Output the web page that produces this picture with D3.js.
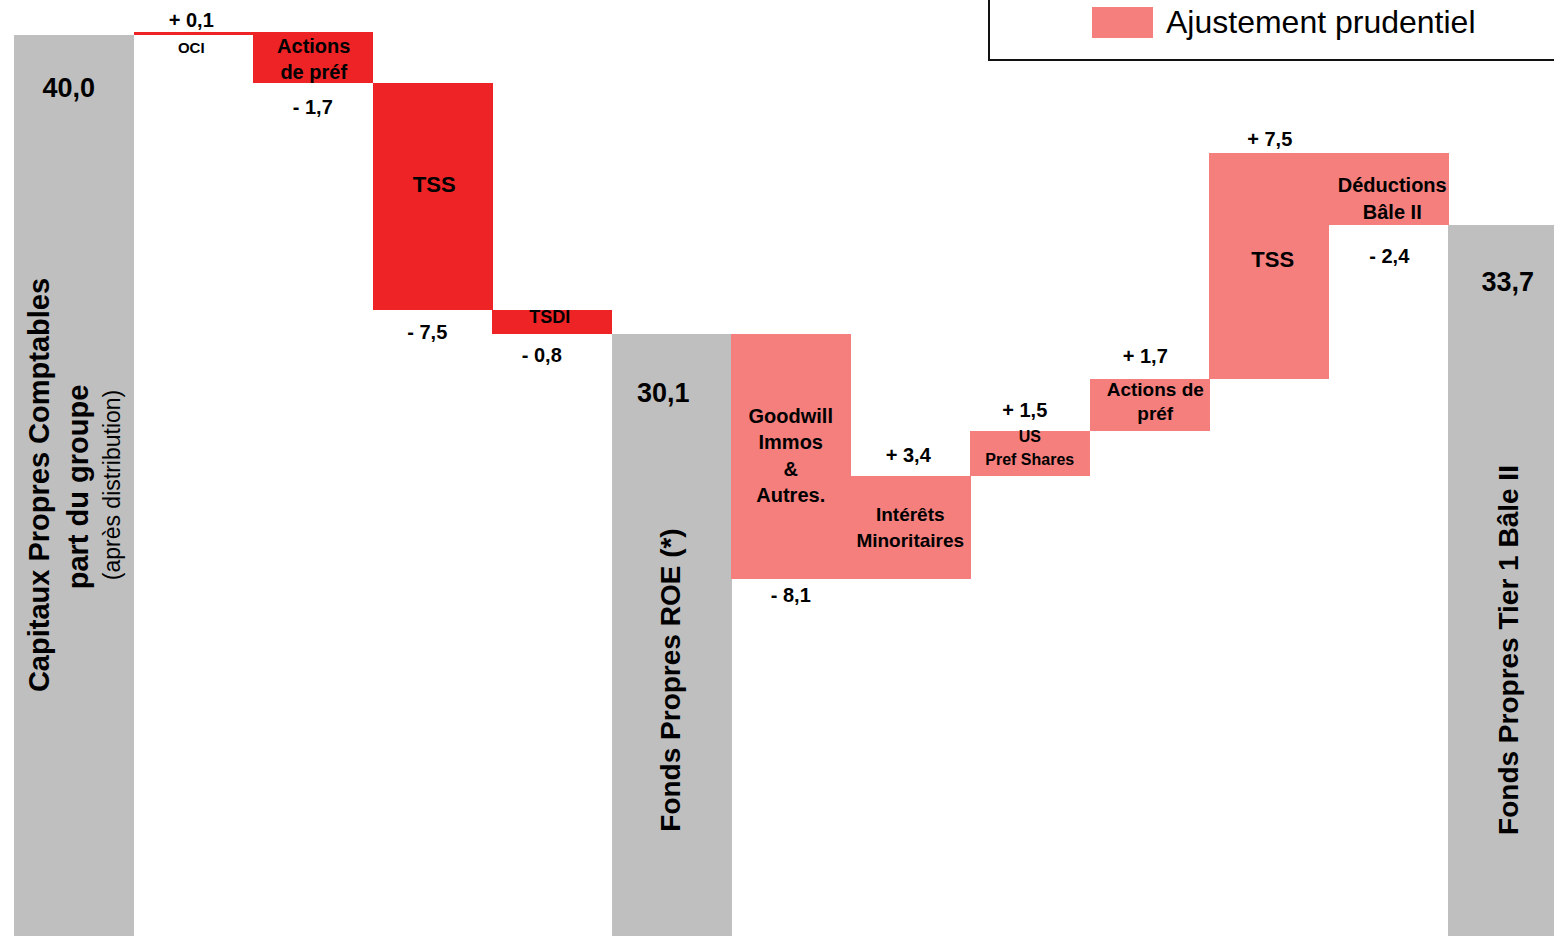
<!DOCTYPE html>
<html>
<head>
<meta charset="utf-8">
<script src="https://cdn.jsdelivr.net/npm/d3@7"></script>
<style>
  html, body { margin: 0; padding: 0; background: #fff; overflow: hidden; }
  text { font-family: "Liberation Sans", Arial, sans-serif; fill: #000; }
</style>
</head>
<body>
<div id="chart"></div>
<script>
// waterfall: fonds propres comptables -> ROE -> Tier 1
const categories = ["Capitaux", "OCI", "Actions de préf", "TSS", "TSDI", "Fonds Propres ROE",
    "Goodwill", "Intérêts Minoritaires", "US Pref Shares", "Actions de préf 2", "TSS 2",
    "Déductions Bâle II", "Tier 1"];
const values = [40.0, 0.1, -1.7, -7.5, -0.8, 30.1, -8.1, 3.4, 1.5, 1.7, 7.5, -2.4, 33.7];
const kinds = ["total", "step", "step", "step", "step", "total",
    "adj", "adj", "adj", "adj", "adj", "adj", "total"];
const valueLabels = ["40,0", "+ 0,1", "- 1,7", "- 7,5", "- 0,8", "30,1",
    "- 8,1", "+ 3,4", "+ 1,5", "+ 1,7", "+ 7,5", "- 2,4", "33,7"];
const barLabels = [[], ["OCI"], ["Actions", "de préf"], ["TSS"], ["TSDI"], [],
    ["Goodwill", "Immos", "&", "Autres."], ["Intérêts", "Minoritaires"], ["US", "Pref Shares"],
    ["Actions de", "préf"], ["TSS"], ["Déductions", "Bâle II"], []];
const legendLabel = "Ajustement prudentiel";

// layout tweaks (px)
const valueDy = [62, -5, 31, 29, 28, 68, 23, -14, -14, -16, -7, 38, 66];
const valueDx = [-5, -2, 0, -5, -10, -8, 0, -2, -5, -4, 1, 1, 0];
const labelDy = [0, 21, 21, 109, 13, 0, 89, 45, 11, 17, 114, 39, 0];
const labelLh = [0, 0, 26, 0, 0, 0, 26.5, 26, 23, 24, 0, 27, 0];
const labelSize = [0, 15, 20, 22, 18, 0, 20, 19, 16, 19, 22, 20, 0];
const labelDx = [0, -2, 1, 2, -2, 0, 0, 0, 0, 6, 4, 4, 0];

const colors = {total: "#bfbfbf", step: "#ee2326", adj: "#f47f7d"};

const w = 1554, h = 936;

// running totals
let rows = [];
let acc = 0;
values.forEach((v, i) => {
    let start, end;
    if (kinds[i] === "total") { start = 0; end = v; acc = v; }
    else { start = acc; end = acc + v; acc = end; }
    rows.push({i: i, cat: categories[i], v: v, kind: kinds[i],
        lo: Math.min(start, end), hi: Math.max(start, end)});
});

let x = d3.scaleBand()
    .domain(categories)
    .range([14, 14 + categories.length * 119.5])
    .padding(0);

let y = d3.scaleLinear()
    .domain([0, 40])
    .range([1243, 35]);

let svg = d3.select("#chart").append("svg")
    .attr("width", w)
    .attr("height", h);

// bars
svg.append("g").selectAll("rect")
    .data(rows)
    .enter().append("rect")
    .attr("x", d => x(d.cat))
    .attr("y", d => y(d.hi))
    .attr("width", x.bandwidth() + 0.5)
    .attr("height", d => y(d.lo) - y(d.hi))
    .attr("fill", d => colors[d.kind])
    .attr("shape-rendering", "crispEdges");

// value labels
svg.append("g").selectAll("text")
    .data(rows)
    .enter().append("text")
    .attr("x", d => x(d.cat) + x.bandwidth() / 2 + valueDx[d.i])
    .attr("y", d => {
        if (d.kind === "total") return y(d.hi) + valueDy[d.i];
        if (d.v >= 0) return y(d.hi) + valueDy[d.i];
        return y(d.lo) + valueDy[d.i];
    })
    .attr("text-anchor", "middle")
    .attr("font-weight", "bold")
    .attr("font-size", d => d.kind === "total" ? 27 : 20)
    .text(d => valueLabels[d.i]);

// labels inside the bars
rows.forEach(d => {
    let lines = barLabels[d.i];
    if (!lines.length) return;
    let t = svg.append("text")
        .attr("text-anchor", "middle")
        .attr("font-weight", "bold")
        .attr("font-size", labelSize[d.i]);
    lines.forEach((s, k) => {
        t.append("tspan")
            .attr("x", x(d.cat) + x.bandwidth() / 2 + labelDx[d.i])
            .attr("y", y(d.hi) + labelDy[d.i] + k * labelLh[d.i])
            .text(s);
    });
});

// vertical titles on the grey bars
let vert = [
    {x: 49, y: 485, size: 29, bold: true, text: "Capitaux Propres Comptables"},
    {x: 88, y: 487, size: 29, bold: true, text: "part du groupe"},
    {x: 120, y: 485, size: 23, bold: false, text: "(après distribution)"},
    {x: 680, y: 680, size: 28, bold: true, text: "Fonds Propres ROE (*)"},
    {x: 1518, y: 650, size: 28, bold: true, text: "Fonds Propres Tier 1 Bâle II"}
];
svg.append("g").selectAll("text")
    .data(vert)
    .enter().append("text")
    .attr("transform", d => `translate(${d.x},${d.y}) rotate(-90)`)
    .attr("text-anchor", "middle")
    .attr("font-weight", d => d.bold ? "bold" : "normal")
    .attr("font-size", d => d.size)
    .text(d => d.text);

// legend box
let lg = svg.append("g");
lg.append("rect")
    .attr("x", 989).attr("y", -10)
    .attr("width", 600).attr("height", 70)
    .attr("fill", "none")
    .attr("stroke", "#111")
    .attr("stroke-width", 2);
lg.append("rect")
    .attr("x", 1092).attr("y", 7)
    .attr("width", 61).attr("height", 31)
    .attr("fill", colors.adj);
lg.append("text")
    .attr("x", 1166).attr("y", 33)
    .attr("font-size", 32)
    .text(legendLabel);
</script>
</body>
</html>
